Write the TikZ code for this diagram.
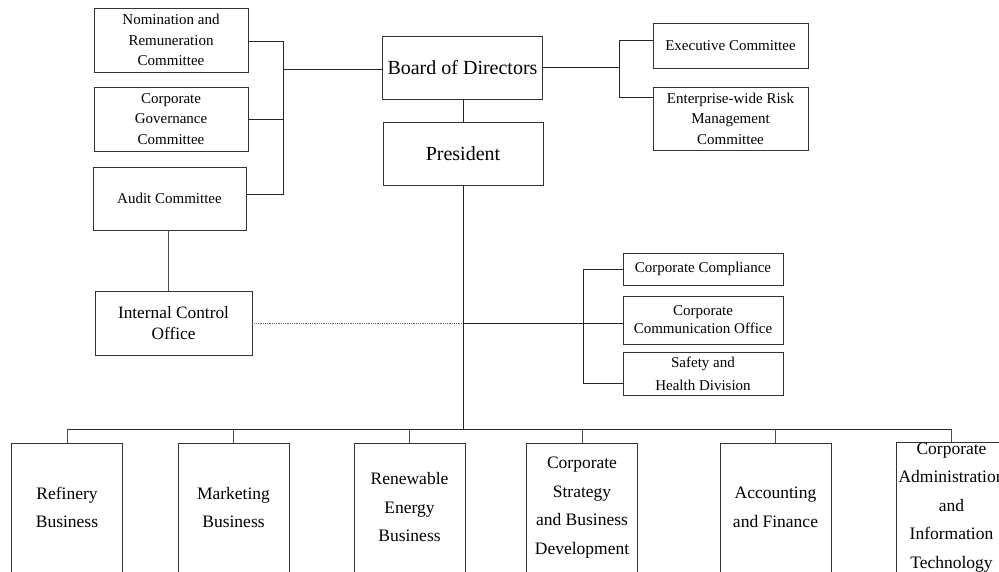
\documentclass[tikz,border=0pt]{standalone}
\usepackage{fontspec}
\setmainfont{Liberation Serif}
\begin{document}
\begin{tikzpicture}[x=1pt,y=-1pt,
  box/.style={draw=black!80,line width=0.9pt,inner sep=0pt,align=center,anchor=center},
  small/.style={box,font=\fontsize{15}{20.5}\selectfont},
  rsmall/.style={box,font=\fontsize{15}{18}\selectfont},
  big/.style={box,font=\fontsize{20}{24}\selectfont},
  unit/.style={box,minimum width=111pt,minimum height=129pt,font=\fontsize{17.5}{28.5}\selectfont},
  link/.style={draw=black!85,line width=0.9pt},
  dotlink/.style={draw=black!60,line width=0.9pt,dash pattern=on 1pt off 0.8pt}]
\useasboundingbox (0,0) rectangle (999,571);
\clip (0,0) rectangle (999,571);

% board and its committees
\node[big,minimum width=160pt,minimum height=63pt] (board) at (462.5,67.5) {Board of Directors};
\node[big,minimum width=160pt,minimum height=63pt] (pres) at (463,153.5) {President};
\node[small,minimum width=154pt,minimum height=64pt] (nom) at (171,40) {Nomination and\\Remuneration\\Committee};
\node[small,minimum width=154pt,minimum height=64pt] (gov) at (171,119) {Corporate\\Governance\\Committee};
\node[small,minimum width=153pt,minimum height=63pt] (audit) at (169.5,198.5) {Audit Committee};
\node[box,minimum width=157pt,minimum height=64pt,font=\fontsize{17.3}{20.5}\selectfont] (ico) at (173.5,323) {Internal Control\\Office};
\node[small,minimum width=155pt,minimum height=45pt] (exec) at (730.5,45.5) {Executive Committee};
\node[small,minimum width=155pt,minimum height=63pt] (erm) at (730.5,118.5) {Enterprise-wide Risk\\Management\\Committee};

% staff offices
\node[rsmall,minimum width=160pt,minimum height=32pt] (comp) at (703,269) {Corporate Compliance};
\node[rsmall,minimum width=160pt,minimum height=48pt] (comm) at (703,320) {Corporate\\Communication Office};
\node[box,minimum width=160pt,minimum height=43pt,font=\fontsize{15}{23}\selectfont] (safe) at (703,373.5) {Safety and\\Health Division};

% business units
\node[unit] (ref) at (67,507.5) {Refinery\\Business};
\node[unit] (mkt) at (233.5,507.5) {Marketing\\Business};
\node[unit] (ren) at (409.5,507.5) {Renewable\\Energy\\Business};
\node[unit] (strat) at (582,507.5) {Corporate\\Strategy\\and Business\\Development};
\node[unit] (acc) at (775.5,507.5) {Accounting\\and Finance};
\node[unit] (adm) at (951.5,507.5) {Corporate\\Administration\\and\\Information\\Technology};

% bracket and bus positions
\coordinate (lb) at (283,0);
\coordinate (rb) at (619,0);
\coordinate (sb) at (583,0);
\coordinate (bus) at (0,429);
\coordinate (mid) at (0,323.5);

% committees to the board
\draw[link] ([yshift=-1pt]nom.east) -- ([yshift=-1pt]nom.east -| lb);
\draw[link] (gov.east) -- (gov.east -| lb);
\draw[link] ([yshift=4.5pt]audit.east) -- ([yshift=4.5pt]audit.east -| lb) -- ([yshift=-1pt]nom.east -| lb);
\draw[link] ([yshift=-1.5pt]board.west) -- ([yshift=-1.5pt]board.west -| lb);
\draw[link] (pres.north |- board.south) -- (pres.north);
\draw[link] (board.east) -- (board.east -| rb);
\draw[link] ([yshift=4.8pt]exec.west) -- ([yshift=4.8pt]exec.west -| rb) -- ([yshift=21.5pt]erm.west -| rb) -- ([yshift=21.5pt]erm.west);

% audit line and internal control
\draw[link,draw=black!70] (audit.south -| 168,0) -- (ico.north -| 168,0);
\draw[dotlink] (ico.east) -- (ico.east -| pres.south);

% president trunk and staff offices
\draw[link] (pres.south) -- (pres.south |- bus);
\draw[link] (pres.south |- mid) -- (sb |- mid);
\draw[link] (comp.west) -- (comp.west -| sb) -- ([yshift=-9.5pt]safe.west -| sb) -- ([yshift=-9.5pt]safe.west);
\draw[link] (sb |- mid) -- (comm.west |- mid);

% bus to business units
\draw[link] (ref.north |- bus) -- (adm.north |- bus);
\foreach \u in {ref,mkt,ren,strat,acc,adm}
  \draw[link,draw=black!70] (\u.north) -- (\u.north |- bus);
\end{tikzpicture}
\end{document}
